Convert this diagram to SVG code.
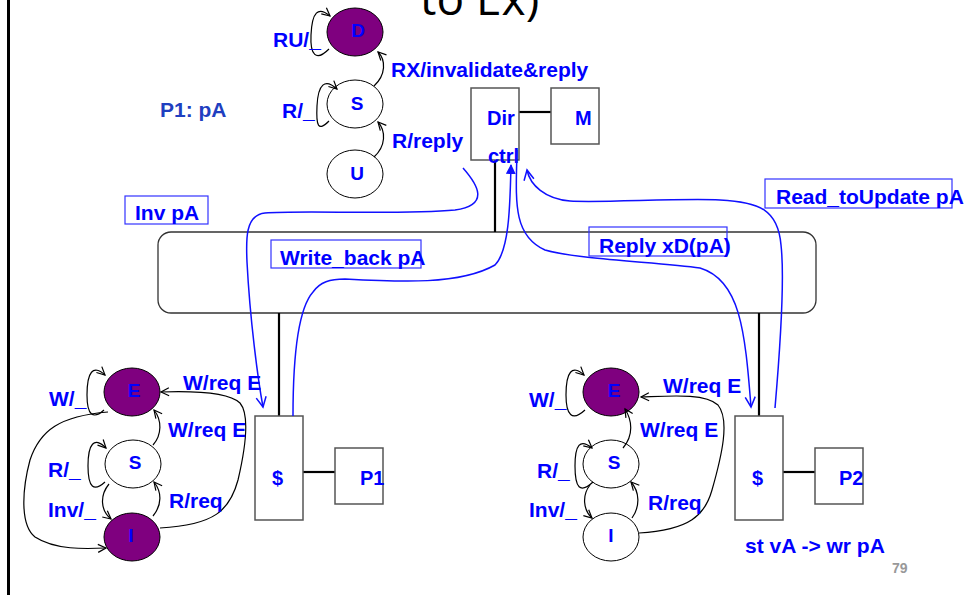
<svg xmlns="http://www.w3.org/2000/svg" width="964" height="595" viewBox="0 0 964 595">
<style>
.t{font-family:"Liberation Sans",Arial,sans-serif;font-weight:bold;font-size:21px;fill:#0000ff}
.st{font-family:"Liberation Sans",Arial,sans-serif;font-weight:bold;font-size:19px;fill:#0000ff;text-anchor:middle}
.bx{font-family:"Liberation Sans",Arial,sans-serif;font-weight:bold;font-size:20px;fill:#0000ff}
.purple{fill:#7f007f;stroke:#000;stroke-width:1}
.white{fill:#fff;stroke:#000;stroke-width:1}
.box{fill:#fff;stroke:#555;stroke-width:1.5}
.lbl{fill:none;stroke:#3333ff;stroke-width:1.2}
.c{fill:none;stroke:#000;stroke-width:1.2;marker-end:url(#ab)}
.m{fill:none;stroke:#1010ff;stroke-width:1.5}
.w{stroke:#000;stroke-width:2.2}
</style>
<defs>
<marker id="ab" markerWidth="12" markerHeight="12" refX="9" refY="5" orient="auto" markerUnits="userSpaceOnUse"><path d="M1,1 L9,5 L1,9" fill="none" stroke="#000" stroke-width="1.2"/></marker>
<marker id="bb" markerWidth="14" markerHeight="14" refX="11" refY="6" orient="auto" markerUnits="userSpaceOnUse"><path d="M1,1 L11,6 L1,11" fill="none" stroke="#1010ff" stroke-width="1.5"/></marker>
<marker id="bf" markerWidth="12" markerHeight="12" refX="9" refY="5" orient="auto" markerUnits="userSpaceOnUse"><path d="M0,0 L10,5 L0,10 Z" fill="#1010ff"/></marker>
</defs>
<rect width="964" height="595" fill="#fff"/>
<line x1="8.5" y1="0" x2="8.5" y2="595" stroke="#000" stroke-width="3"/>
<text x="420" y="15" font-family="'Open Sans','DejaVu Sans',sans-serif" font-size="46" fill="#000">to Ex)</text>

<g id="bus"><rect x="158" y="232" width="658" height="81" rx="13" fill="none" stroke="#333" stroke-width="1.3"/></g>
<g id="wires">
<line class="w" x1="495" y1="160" x2="495" y2="232"/>
<line class="w" x1="519" y1="112" x2="551" y2="112"/>
<line class="w" x1="279" y1="313" x2="279" y2="416"/>
<line class="w" x1="759" y1="313" x2="759" y2="416"/>
<line class="w" x1="303" y1="472" x2="335" y2="472"/>
<line class="w" x1="783" y1="472" x2="815" y2="472"/>
</g>

<g id="dirctrl"><rect class="box" x="471" y="88" width="48" height="72"/><text class="bx" x="487" y="125">Dir</text><text class="bx" x="488" y="163">ctrl</text></g>
<g id="mem"><rect class="box" x="551" y="88" width="48" height="56"/><text class="bx" x="575" y="125">M</text></g>
<g id="cache1"><rect class="box" x="255" y="416" width="48" height="104"/><text class="bx" x="272" y="485">$</text></g>
<g id="proc1"><rect class="box" x="335" y="448" width="48" height="56"/><text class="bx" x="360" y="485">P1</text></g>
<g id="cache2"><rect class="box" x="735" y="416" width="48" height="104"/><text class="bx" x="752" y="485">$</text></g>
<g id="proc2"><rect class="box" x="815" y="448" width="48" height="56"/><text class="bx" x="839" y="485">P2</text></g>

<g id="dirD"><ellipse class="purple" cx="355" cy="32" rx="28" ry="24"/><text class="st" x="358" y="37">D</text></g>
<g id="dirS"><ellipse class="white" cx="355" cy="104" rx="28" ry="24"/><text class="st" x="357" y="110">S</text></g>
<g id="dirU"><ellipse class="white" cx="355" cy="174" rx="28" ry="24"/><text class="st" x="357" y="180">U</text></g>

<g id="p1E"><ellipse class="purple" cx="132" cy="392" rx="28" ry="24"/><text class="st" x="134" y="397">E</text></g>
<g id="p1S"><ellipse class="white" cx="133" cy="464" rx="28" ry="24"/><text class="st" x="135" y="469">S</text></g>
<g id="p1I"><ellipse class="purple" cx="132" cy="537" rx="28" ry="24"/><text class="st" x="131" y="542">I</text></g>

<g id="p2E"><ellipse class="purple" cx="611" cy="392" rx="28" ry="24"/><text class="st" x="614" y="397">E</text></g>
<g id="p2S"><ellipse class="white" cx="611" cy="464" rx="28" ry="24"/><text class="st" x="614" y="469">S</text></g>
<g id="p2I"><ellipse class="white" cx="611" cy="537" rx="28" ry="24"/><text class="st" x="611" y="542">I</text></g>

<g id="connectors">
<path class="c" d="M329,49 C316,62 310,55 311,35 C312,12 318,6 330,16"/>
<path class="c" d="M329,121 C318,132 316,126 317,106 C318,84 325,78 337,89"/>
<path class="c" d="M374,86 C386,75 386,60 378,52"/>
<path class="c" d="M374,157 C386,146 386,131 378,122"/>

<path class="c" d="M104,410 C93,420 87,415 87,395 C87,372 93,364 105,375"/>
<path class="c" d="M105,482 C94,492 88,488 88,466 C88,444 94,436 106,448"/>
<path class="c" d="M109,484 C100,495 100,510 111,519"/>
<path class="c" d="M153,516 C162,505 162,492 154,482"/>
<path class="c" d="M153,445 C162,435 162,420 154,410"/>
<path class="c" d="M160,528 C215,525 230,510 238,480 C245,450 250,415 240,403 C228,392 190,391 161,392"/>
<path class="c" d="M108,412 C60,416 40,430 30,460 C22,490 20,525 35,537 C55,550 85,549 106,548"/>

<path class="c" d="M585,410 C572,422 566,415 566,395 C566,372 572,364 584,375"/>
<path class="c" d="M593,482 C580,494 575,488 575,466 C575,445 580,438 592,448"/>
<path class="c" d="M590,485 C582,495 583,510 592,518"/>
<path class="c" d="M632,518 C640,507 640,492 631,482"/>
<path class="c" d="M623,448 C634,435 632,420 625,409"/>
<path class="c" d="M639,533 C690,530 705,515 712,490 C722,455 730,420 718,405 C705,393 670,396 641,397"/>

<path class="m" marker-end="url(#bb)" d="M463,168 C478,185 490,205 455,210 C400,215 300,210 265,213 C245,215 246,240 247,262 C250,320 258,380 263,407"/>
<path class="m" marker-end="url(#bf)" d="M293,416 C293,360 297,310 313,292 C320,282 330,279 345,279 C400,282 460,285 495,265 C510,250 510,200 511,165"/>
<path class="m" marker-end="url(#bb)" d="M517,150 C516,200 512,235 545,250 C580,260 660,262 700,268 C740,280 745,330 751,407"/>
<path class="m" marker-end="url(#bb)" d="M775,408 C780,350 785,280 781,245 C778,210 760,202 720,200 C680,198 600,203 570,201 C545,199 530,185 527,170"/>
</g>

<g id="labels">
<text class="t" x="273" y="47">RU/_</text>
<text class="t" x="282" y="118">R/_</text>
<text class="t" x="391" y="77">RX/invalidate&amp;reply</text>
<text class="t" x="392" y="148">R/reply</text>
<text class="t" x="160" y="117" style="fill:#1f3fc0">P1: pA</text>

<text class="t" x="49" y="406">W/_</text>
<text class="t" x="48" y="477">R/_</text>
<text class="t" x="48" y="517">Inv/_</text>
<text class="t" x="183" y="390">W/req E</text>
<text class="t" x="168" y="437">W/req E</text>
<text class="t" x="169" y="508">R/req</text>

<text class="t" x="529" y="407">W/_</text>
<text class="t" x="537" y="478">R/_</text>
<text class="t" x="529" y="517">Inv/_</text>
<text class="t" x="663" y="393">W/req E</text>
<text class="t" x="640" y="437">W/req E</text>
<text class="t" x="648" y="510">R/req</text>

<rect class="lbl" x="125" y="196" width="83" height="28"/><text class="t" x="135" y="220">Inv pA</text>
<rect class="lbl" x="271" y="240" width="150" height="28"/><text class="t" x="280" y="265">Write_back pA</text>
<rect class="lbl" x="589" y="227" width="138" height="29"/><text class="t" x="599" y="253">Reply xD(pA)</text>
<rect class="lbl" x="765" y="179" width="187" height="29"/><text class="t" x="776" y="204">Read_toUpdate pA</text>

<text class="t" x="745" y="553">st vA -&gt; wr pA</text>
<text x="892" y="573" font-family="'Liberation Sans',Arial,sans-serif" font-weight="bold" font-size="14" fill="#999">79</text>
</g>
</svg>
